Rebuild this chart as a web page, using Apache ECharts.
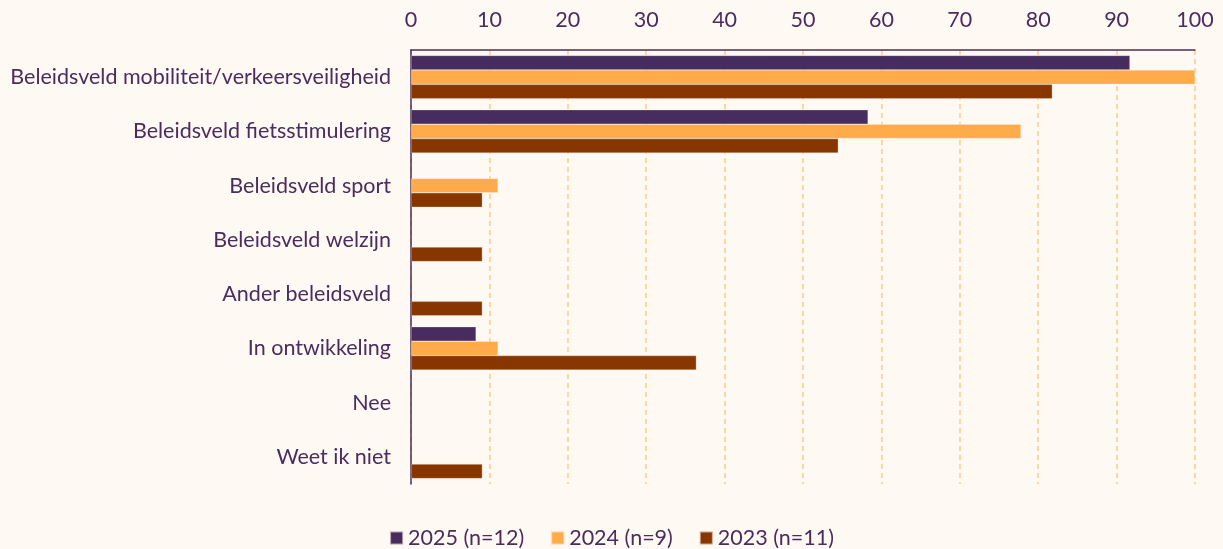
<!DOCTYPE html>
<html style="height: 100%">
<head>
<meta charset="utf-8">
<script src="https://cdn.jsdelivr.net/npm/echarts@6/dist/echarts.min.js"></script>
</head>
<body style="height: 100%; margin: 0; background: #fff9f3">
<div id="container" style="width: 1223px; height: 549px"></div>
<script type="text/javascript">
var categories = [
    'Beleidsveld mobiliteit/verkeersveiligheid',
    'Beleidsveld fietsstimulering',
    'Beleidsveld sport',
    'Beleidsveld welzijn',
    'Ander beleidsveld',
    'In ontwikkeling',
    'Nee',
    'Weet ik niet'
];
var seriesNames = ['2025 (n=12)', '2024 (n=9)', '2023 (n=11)'];
var values2025 = [91.7, 58.3, 0, 0, 0, 8.3, 0, 0];
var values2024 = [100, 77.8, 11.1, 0, 0, 11.1, 0, 0];
var values2023 = [81.8, 54.5, 9.1, 9.1, 9.1, 36.4, 0, 9.1];
var xTicks = [0, 10, 20, 30, 40, 50, 60, 70, 80, 90, 100];

var textColor = '#4a2c5e';
var colors = ['#472c5f', '#ffab4a', '#873600'];

var myChart = echarts.init(document.getElementById('container'));
var allValues = [values2025, values2024, values2023];

var option = {
    backgroundColor: '#fff9f3',
    textStyle: { fontFamily: 'Lato', color: textColor },
    color: colors,
    grid: { left: 411, right: 28, top: 50, bottom: 65 },
    legend: {
        top: 522,
        itemWidth: 13,
        itemHeight: 13,
        itemGap: 26,
        icon: 'rect',
        textStyle: { fontSize: 21.5, color: textColor, fontFamily: 'Lato' },
        data: seriesNames
    },
    xAxis: {
        type: 'value',
        position: 'top',
        min: xTicks[0],
        max: xTicks[xTicks.length - 1],
        interval: 10,
        axisLine: { show: true, lineStyle: { color: textColor, width: 1.5 } },
        axisTick: { show: false },
        axisLabel: { fontSize: 21.5, color: textColor, margin: 19, fontFamily: 'Lato' },
        splitLine: { show: true, lineStyle: { color: '#ffc98a', type: [5, 4], width: 1.5 } }
    },
    yAxis: {
        type: 'category',
        inverse: true,
        data: categories,
        axisLine: { show: true, lineStyle: { color: textColor, width: 1.5 } },
        axisTick: { show: false },
        axisLabel: { fontSize: 21.5, color: textColor, margin: 20, fontFamily: 'Lato' }
    },
    series: seriesNames.map(function (name, i) {
        return {
            name: name,
            type: 'bar',
            data: allValues[i].map(function (v) { return v === 0 ? null : v; }),
            barGap: '0%',
            barCategoryGap: '20%',
            itemStyle: { borderColor: 'rgba(255,240,230,0.6)', borderWidth: 0.5 }
        };
    })
};
myChart.setOption(option);
</script>
</body>
</html>
